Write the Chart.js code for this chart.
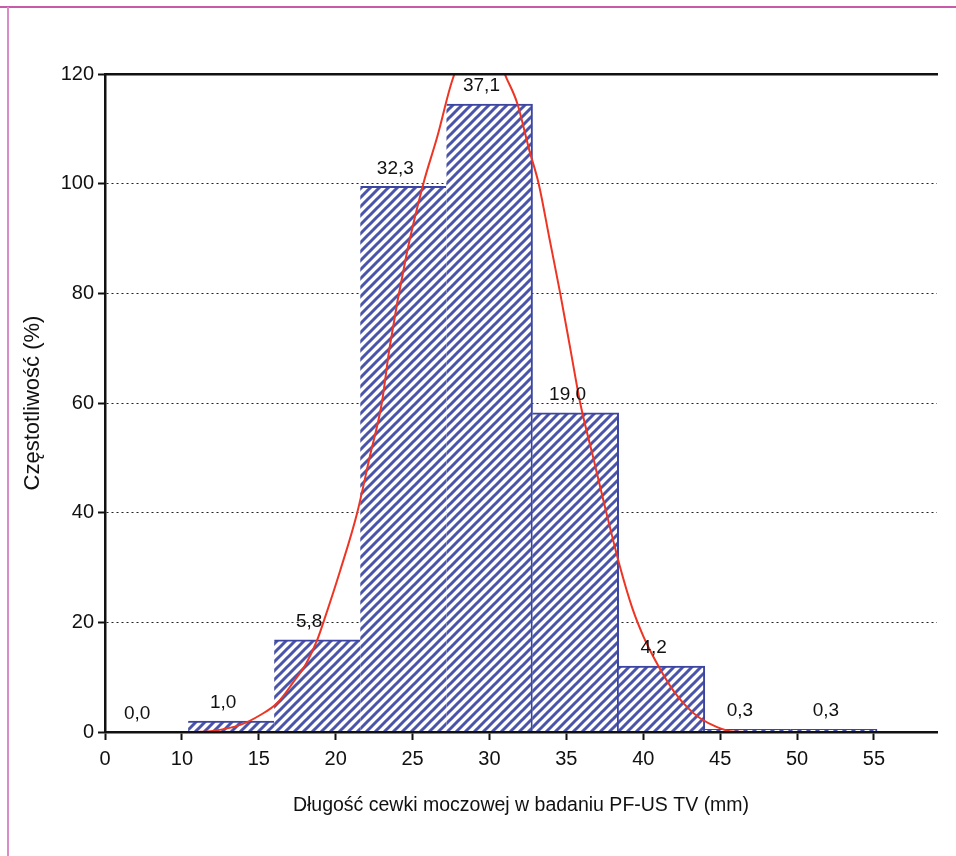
<!DOCTYPE html>
<html>
<head>
<meta charset="utf-8">
<script src="https://cdn.jsdelivr.net/npm/chart.js@4"></script>
<style>
    body { margin: 0; background: #fff; }
</style>
</head>
<body>
<canvas id="histChart" width="956" height="856"></canvas>
<script>
    // bins (bar centres in mm; first bin is the empty one next to the axis break)
    const binCenters = [7.61, 13.2, 18.8, 24.4, 30.0, 35.6, 41.2, 46.8, 52.4];
    const binCounts = [0, 2, 16.8, 99.5, 114.5, 58.2, 12.0, 0.5, 0.5];
    const binLabels = ['0,0', '1,0', '5,8', '32,3', '37,1', '19,0', '4,2', '0,3', '0,3'];

    // fitted curve
    const curveX = [10.85, 12.0, 13.8, 15.1, 16.2, 17.2, 18.1, 18.8, 19.2, 20.3, 21.4, 22.2, 23.0, 23.5,
        24.6, 25.7, 26.6, 27.6, 29.4, 31.1, 31.8, 32.6, 33.2, 33.9, 34.6, 35.25, 35.9, 36.75,
        37.6, 38.5, 39.3, 40.0, 40.7, 41.4, 42.1, 42.9, 43.7, 44.8, 45.8, 47.6];
    const curveY = [0, 0.2, 1.3, 3.1, 5.3, 8.9, 12.6, 16.8, 20, 29.5, 40, 50, 60, 70,
        87, 100, 108.5, 119, 130, 119.3, 114.7, 106, 100, 90, 80, 70, 60, 50,
        40, 30, 22.5, 17.5, 13.5, 10, 7, 4.4, 2.5, 0.9, 0.1, 0];

    const xTicks = [5, 10, 15, 20, 25, 30, 35, 40, 45, 50, 55];
    const xTickText = ['0', '10', '15', '20', '25', '30', '35', '40', '45', '50', '55'];

    const FONT = "'Liberation Sans', Arial, sans-serif";

    document.addEventListener('DOMContentLoaded', function () {
        const canvas = document.getElementById('histChart');
        const ctx = canvas.getContext('2d');

        // diagonal hatch for the bars
        const tile = document.createElement('canvas');
        const s = 9;
        tile.width = s;
        tile.height = s;
        const t = tile.getContext('2d');
        t.fillStyle = '#ffffff';
        t.fillRect(0, 0, s, s);
        t.strokeStyle = '#4a54a8';
        t.lineWidth = 3;
        t.beginPath();
        t.moveTo(0, s); t.lineTo(s, 0);
        t.moveTo(-s, s); t.lineTo(s, -s);
        t.moveTo(0, 2 * s); t.lineTo(2 * s, 0);
        t.stroke();
        const hatch = ctx.createPattern(tile, 'repeat');

        const frame = {
            id: 'frame',
            beforeDraw(chart) {
                const c = chart.ctx;
                c.save();
                c.fillStyle = '#fff';
                c.fillRect(0, 0, chart.width, chart.height);
                c.lineWidth = 2;
                c.strokeStyle = '#c85aaa';
                c.beginPath(); c.moveTo(0, 7); c.lineTo(chart.width, 7); c.stroke();
                c.strokeStyle = '#d98cc8';
                c.beginPath(); c.moveTo(8, 7); c.lineTo(8, chart.height); c.stroke();
                c.restore();
            }
        };

        const barLabels = {
            id: 'barLabels',
            afterDatasetsDraw(chart) {
                const meta = chart.getDatasetMeta(1);
                const c = chart.ctx;
                c.save();
                c.font = '19px ' + FONT;
                c.fillStyle = '#111';
                c.textAlign = 'center';
                c.textBaseline = 'middle';
                meta.data.forEach((bar, i) => {
                    c.fillText(binLabels[i], bar.x - 8, bar.y - 18);
                });
                c.restore();
            }
        };

        new Chart(ctx, {
            type: 'bar',
            data: {
                datasets: [{
                    type: 'line',
                    data: curveX.map((x, i) => ({ x: x, y: curveY[i] })),
                    borderColor: '#ee3524',
                    borderWidth: 2,
                    pointRadius: 0,
                    cubicInterpolationMode: 'monotone',
                    order: 1
                }, {
                    type: 'bar',
                    data: binCenters.map((x, i) => ({ x: x, y: binCounts[i] })),
                    backgroundColor: hatch,
                    borderColor: '#3c46a2',
                    borderSkipped: false,
                    borderWidth: function (c) {
                        const i = c.dataIndex;
                        const v = binCounts[i];
                        const next = i + 1 < binCounts.length ? binCounts[i + 1] : 0;
                        return { top: v > 0 ? 2 : 0, right: v > next ? 2 : 0, left: 0, bottom: 0 };
                    },
                    barThickness: 'flex',
                    barPercentage: 1,
                    categoryPercentage: 1,
                    order: 2
                }]
            },
            options: {
                responsive: false,
                animation: false,
                layout: { padding: { top: 74, right: 19, left: 0, bottom: 0 } },
                plugins: {
                    legend: { display: false },
                    tooltip: { enabled: false }
                },
                scales: {
                    x: {
                        type: 'linear',
                        min: 5,
                        max: 59.1,
                        offset: false,
                        afterFit: (scale) => { scale.height = 124; },
                        afterBuildTicks: (scale) => { scale.ticks = xTicks.map(v => ({ value: v })); },
                        grid: { offset: false, drawOnChartArea: false, tickLength: 8, tickWidth: 2, tickColor: '#111' },
                        border: { color: '#111', width: 2.5, z: 1 },
                        ticks: {
                            padding: 7,
                            color: '#111',
                            font: { family: FONT, size: 20 },
                            callback: (v) => xTickText[xTicks.indexOf(v)]
                        },
                        title: {
                            display: true,
                            text: 'Długość cewki moczowej w badaniu PF-US TV (mm)',
                            color: '#111',
                            font: { family: FONT, size: 19.5 },
                            padding: { top: 0, bottom: 39 }
                        }
                    },
                    x2: {
                        type: 'linear',
                        position: 'top',
                        min: 5,
                        max: 59.1,
                        afterFit: (scale) => { scale.height = 0; },
                        grid: { display: false },
                        ticks: { display: false },
                        border: { color: '#111', width: 2.5, z: 1 }
                    },
                    y: {
                        min: 0,
                        max: 120,
                        afterFit: (scale) => { scale.width = 105; },
                        ticks: {
                            stepSize: 20,
                            padding: 4,
                            color: '#111',
                            font: { family: FONT, size: 20 }
                        },
                        grid: {
                            color: (c) => (c.tick && (c.tick.value === 0 || c.tick.value === 120)) ? 'rgba(0,0,0,0)' : '#222',
                            lineWidth: 1,
                            tickLength: 7,
                            tickWidth: 2,
                            tickColor: '#111'
                        },
                        border: { color: '#111', width: 2.5, dash: [2, 3], z: 1 },
                        title: {
                            display: true,
                            text: 'Częstotliwość (%)',
                            color: '#111',
                            font: { family: FONT, size: 22 },
                            padding: { top: 20, bottom: 0 }
                        }
                    }
                }
            },
            plugins: [frame, barLabels]
        });
    });
</script>
</body>
</html>
